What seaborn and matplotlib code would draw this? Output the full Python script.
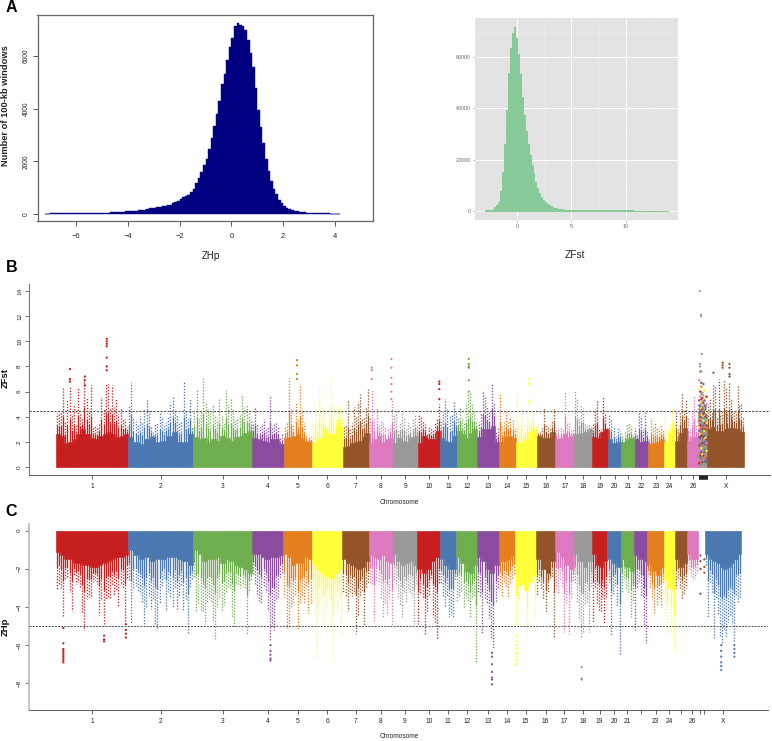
import numpy as np
import pandas as pd
import matplotlib
matplotlib.use("Agg")
import matplotlib.pyplot as plt
import seaborn as sns

W, H = 772, 741

# ---------- panel A histograms ----------
zhp_edges_lo, zhp_edges_hi = -7.2, 4.2
zhp_counts = [15,15,20,20,20,25,25,25,30,30,30,35,
              35,35,35,40,40,40,40,45,45,50,
              50,55,55,60,65,70,75,85,90,100,
              105,110,120,130,140,155,170,190,210,230,
              245,260,280,300,320,340,360,400,440,500,
              580,640,680,740,840,960,1170,1380,1600,1850,
              2100,2450,2900,3350,3800,4300,4950,5300,5850,6350,
              6700,7150,7270,7180,7150,7000,6600,6100,5600,4800,
              3950,3300,2700,2100,1650,1250,950,750,550,430,
              320,240,190,150,120,100,85,70,60,50,
              45,40,35,30,28,25,22,20,18,15,12,10]
zfst_edges_lo, zfst_edges_hi = -2.98, 13.87
zfst_counts = [100,150,200,400,800,1500,2200,3500,7800,15100,26000,39400,53700,63500,69600,72000,
               67400,61300,53500,44600,37400,31300,26000,21800,17900,14600,11300,8700,6800,5200,
               4200,3400,2600,2100,1700,1300,1000,900,780,650,500,450,400,350,300,280,260,240,
               220,200,190,180,170,160,150,150,140,140,130,130,120,120,120,110,110,110,100,100,
               100,100,90,90,90,90,80,80,80,80,70,70,70,70,70,60,60,60,60,60,60,50,50,50,50,50,50,50]

# ---------- genome (Mb) ----------
chrom_names = [str(i) for i in range(1, 27)] + ["scaffolds", "X"]
chrom_mb = [275,248,224,119,108,117,100,91,94,86,62,79,83,62,80,71,72,68,60,51,50,51,62,42,45,44,33,138]
zhp_unplaced_mb = 27
set_colors = ["#C71F1F","#4C78B2","#6FAE4E","#8A4C9F","#E47F1E","#FFFF3A","#925428","#DD79BE","#999999"]

# ---------- panel B: window maxima ----------
fst_top_1 = [4.3,4.2,4.4,6.3,3.6,5.3,6.4,4.2,4.9,3.4,6.3,4.2,4.0,7.2,5.6,4.5,6.5,3.3,3.3,3.2,3.4,5.6,4.6,6.6,6.6,4.6,6.5,4.8,5.4,4.2,4.6,3.8,3.8,3.2]
fst_top_2 = [4.9,6.8,4.0,3.7,3.4,4.1,3.6,4.6,5.4,4.6,3.3,2.8,3.4,3.6,4.5,3.9,3.3,3.6,4.0,5.0,5.6,4.6,4.2,3.5,3.7,6.8,4.5,3.8,5.5,3.2]
fst_top_3 = [4.4,6.2,3.8,4.5,7.1,5.2,4.6,4.3,5.0,4.1,3.8,5.4,4.1,3.6,6.1,5.0,5.5,4.6,3.8,4.0,4.2,5.8,4.8,4.9,4.4,3.8]
fst_top_4 = [3.6,4.8,3.4,3.2,3.4,3.8,3.0,3.2,5.7,3.2,3.5,3.5,3.3,2.3,2.6]
fst_top_5 = [3.3,3.6,7.1,4.6,3.4,5.2,3.8,6.5,4.5,3.5,2.6,2.5,2.4]
fst_top_6 = [3.5,4.9,3.6,6.4,5.3,4.6,4.1,3.3,5.0,7.1,5.0,3.8,4.9,4.6,4.0]
fst_top_7 = [3.3,3.4,5.3,3.1,3.5,4.8,4.0,5.2,5.8,3.9,4.0,4.7,6.2]
fst_top_8 = [3.9,6.1,4.0,4.8,3.4,3.7,3.6,3.2,3.0,3.3,5.4]
fst_top_9 = [4.2,4.5,3.0,3.6,4.4,4.0,3.2,3.6,3.3,3.8,4.2,3.4]
fst_top_10 = [4.2,4.0,3.7,3.4,2.6,3.3,3.1,3.0,3.6,3.8,5.0]
fst_top_11 = [3.8,4.4,5.4,4.6,4.1,4.2,5.2,4.4]
fst_top_12 = [3.9,4.8,3.9,3.5,5.2,6.0,5.9,5.0,4.5,3.6]
fst_top_13 = [3.6,4.2,6.0,5.7,4.8,4.4,6.6,5.2,2.8,3.2]
fst_top_14 = [5.9,3.3,3.6,4.5,3.7,4.0,3.8,3.1]
fst_top_15 = [5.8,3.4,4.6,3.0,3.5,4.5,3.9,3.6,4.5,3.4]
fst_top_16 = [2.8,2.8,3.1,4.8,3.4,3.3,3.2,3.7,4.6]
fst_top_17 = [3.1,3.2,3.3,3.0,6.0,3.6,3.5,3.0,3.1]
fst_top_18 = [6.1,5.5,4.0,4.9,4.7,3.4,3.4,3.4,3.2]
fst_top_19 = [3.4,4.6,5.3,3.0,3.0,5.6,4.2,3.1]
fst_top_20 = [4.2,3.8,3.3,2.5,3.2,2.9]
fst_top_21 = [2.6,2.8,3.4,3.5,3.3,2.6]
fst_top_22 = [3.1,2.6,4.4,4.0,3.0,4.4,2.9]
fst_top_23 = [2.3,3.9,3.2,3.5,3.1,3.0,3.3,3.0]
fst_top_24 = [4.3,3.0,3.4,4.6,3.6]
fst_top_25 = [4.4,3.0,4.4,5.9,4.6,5.4]
fst_top_26 = [4.0,3.0,4.4,5.7,3.4,3.4]
fst_top_27 = []
fst_top_X = [5.0,5.4,4.5,6.6,6.5,4.0,7.0,4.2,4.4,7.0,6.4,4.2,6.8,5.4,4.5,4.5,4.4,6.5,5.0,5.0,4.0]

# ---------- panel B: solid level ----------
fst_floor_1 = [2.6,2.5,1.9,2.0,2.2,2.6,3.0,2.6,2.3,2.2,2.5,2.6,2.8,2.6,2.4,2.5,2.6]
fst_floor_2 = [2.4,2.0,1.8,2.2,2.4,2.0,2.1,2.5,2.8,2.0,2.0,2.6]
fst_floor_3 = [2.4,2.2,2.3,2.0,2.2,2.1,2.5,2.3,2.1,2.4,2.5,2.7,2.9]
fst_floor_4 = [2.3,2.2,2.1,2.0,2.2,2.2,1.8]
fst_floor_5 = [2.3,2.4,2.5,2.6,2.3,2.1,2.0]
fst_floor_6 = [1.9,2.2,2.4,3.0,2.7,2.6,3.0,2.8]
fst_floor_7 = [1.6,1.7,1.9,2.0,2.1,2.4,2.7]
fst_floor_8 = [1.9,2.2,2.5,2.0,2.2,2.3]
fst_floor_9 = [1.9,2.3,2.1,2.0,2.4,2.5]
fst_floor_10 = [1.9,2.5,2.2,2.2,2.9]
fst_floor_11 = [2.3,2.1,2.0,2.5]
fst_floor_12 = [2.9,2.6,2.3,2.7,3.0]
fst_floor_13 = [2.4,3.0,3.0,3.3,2.0]
fst_floor_14 = [2.0,2.4,2.5,2.3]
fst_floor_15 = [2.0,2.0,2.2,2.8,3.0]
fst_floor_16 = [2.5,2.3,2.3,2.8]
fst_floor_17 = [2.2,2.3,2.6,2.4,2.5]
fst_floor_18 = [2.6,2.7,2.8,3.0]
fst_floor_19 = [2.4,2.3,2.8,3.0]
fst_floor_20 = [2.2,1.9,2.0]
fst_floor_21 = [2.0,2.2,2.3]
fst_floor_22 = [2.2,2.0,2.1]
fst_floor_23 = [1.8,1.9,2.0,2.2]
fst_floor_24 = [2.0,2.6,2.7]
fst_floor_25 = [2.1,2.7,3.1]
fst_floor_26 = [2.1,2.4,2.4]
fst_floor_27 = [3.4]
fst_floor_X = [3.0,3.2,2.9,2.9,3.0,3.1,3.1,3.0,2.8]

# panel B isolated points: chromosome index, offset (Mb), value
fst_out_chr = [0]*7 + [0]*3 + [0]*3 + [4]*4 + [7]*3 + [7]*6 + [9]*4 + [11]*6 + [14]*5 + [27]*3 + [27]*4 + [27] + [26]*7
fst_out_mb = [194]*7 + [54]*3 + [111]*3 + [51]*4 + [10]*3 + [85]*6 + [82]*4 + [46]*6 + [52]*5 + [58]*3 + [84]*4 + [23] + [4,9,9,12,5,5,10]
fst_out_z = [10.2,10.0,9.8,9.6,8.7,8.0,7.7, 7.8,7.0,6.8, 7.2,6.9,6.5, 8.5,8.1,7.4,7.0,
             7.9,7.7,7.0, 8.6,7.9,7.1,6.6,6.0,5.4, 6.8,6.6,6.2,5.4, 8.6,8.2,8.0,7.9,6.9,6.0,
             7.0,6.7,6.5,5.3,5.1, 8.3,8.1,7.9, 8.2,7.9,7.4,7.2, 7.5,
             14.0,12.1,12.0,9.0,8.2,8.0,7.6]

# panel B unplaced scaffolds: one list of values per scaffold block
scaf_mb = [2,6,10,14,18,22,26,30]
scaf_z_a = [0.3,0.8,1.1,1.7,2.0,2.4,2.9,3.2,3.5,3.7,3.9,4.1,4.3,4.6,4.9,5.3,6.2,6.9]
scaf_z_b = [0.5,0.9,1.4,1.8,2.3,2.6,3.0,3.3,3.6,3.8,4.0,4.2,4.5,4.8,5.1,5.6,6.0,7.6]
scaf_z_c = [0.2,0.7,1.2,1.5,2.1,2.5,2.8,3.1,3.4,3.7,4.0,4.4,4.7,5.0,5.4,5.8,6.4,6.7]
scaf_z_d = [0.4,1.0,1.3,1.9,2.2,2.7,3.0,3.4,3.6,3.9,4.1,4.3,4.6,4.8,5.2,5.5,5.9]
scaf_z_e = [0.6,0.9,1.5,1.7,2.4,2.6,3.1,3.3,3.7,3.9,4.2,4.4,4.7,5.1,5.7,6.6]
scaf_z_f = [0.3,0.8,1.2,1.6,2.0,2.5,2.9,3.2,3.5,3.8,4.0,4.3,4.5,4.9,5.3,6.1]
scaf_z_g = [0.5,1.1,1.4,1.8,2.3,2.7,3.0,3.4,3.6,4.0,4.2,4.6,4.8,5.5]
scaf_z_h = [0.4,0.7,1.3,1.9,2.2,2.6,3.1,3.3,3.7,3.9,4.1,4.4,5.0,5.6]

# ---------- panel C: window minima ----------
zhp_top_1 = [-3.1,-2.8,-3.0,-4.5,-2.6,-2.5,-3.2,-4.2,-2.4,-2.8,-2.7,-3.0,-4.3,-5.2,-3.6,-3.5,-3.4,-2.7,-2.6,-2.8,-4.4,-3.6,-5.0,-3.6,-3.5,-3.6,-2.9,-3.4,-3.1,-4.0,-2.8,-3.0,-4.8,-2.5]
zhp_top_2 = [-2.6,-4.9,-3.0,-2.9,-3.2,-3.3,-3.8,-5.0,-4.0,-3.4,-4.1,-3.6,-4.9,-5.2,-3.8,-2.9,-2.6,-4.2,-3.2,-3.5,-4.0,-3.0,-4.2,-3.5,-2.9,-4.2,-3.6,-5.4,-3.0,-2.6]
zhp_top_3 = [-2.5,-4.2,-3.8,-4.2,-4.3,-4.9,-3.8,-3.6,-3.8,-4.7,-5.7,-4.0,-3.5,-4.2,-3.9,-3.2,-3.0,-3.0,-4.5,-5.1,-2.8,-2.9,-3.0,-2.9,-3.0,-5.4,-3.2,-2.6]
zhp_top_4 = [-2.3,-2.8,-3.3,-3.7,-3.8,-2.9,-3.2,-4.2,-5.8,-5.1,-5.2,-3.7,-3.6,-2.5,-2.2]
zhp_top_5 = [-3.5,-5.1,-5.1,-4.0,-3.8,-3.4,-5.2,-3.8,-3.5,-3.8,-3.0,-4.3,-3.8]
zhp_top_6 = [-3.8,-4.5,-6.7,-4.3,-3.8,-5.0,-4.6,-3.8,-3.6,-5.3,-6.9,-3.5,-4.2,-3.8,-5.5]
zhp_top_7 = [-3.2,-3.5,-4.2,-3.2,-3.4,-3.3,-5.4,-4.4,-3.5,-3.2,-5.0,-3.0,-2.8]
zhp_top_8 = [-2.8,-2.8,-4.8,-2.6,-2.8,-3.6,-4.6,-3.8,-4.4,-3.6,-5.0]
zhp_top_9 = [-2.6,-2.9,-3.6,-3.9,-4.5,-3.2,-3.8,-3.0,-3.2,-3.4,-4.9,-2.8]
zhp_top_10 = [-4.9,-3.3,-3.6,-5.4,-4.3,-3.4,-2.6,-4.5,-4.8,-5.7,-2.8]
zhp_top_11 = [-2.8,-3.5,-4.0,-3.4,-4.5,-4.4,-4.5,-2.6]
zhp_top_12 = [-3.7,-3.4,-3.2,-4.1,-3.4,-3.7,-4.6,-3.6,-3.5,-6.9]
zhp_top_13 = [-3.2,-3.4,-5.4,-3.6,-3.8,-4.6,-5.7,-6.2,-3.8,-3.0]
zhp_top_14 = [-3.0,-3.5,-2.7,-3.0,-3.5,-2.8,-2.6,-2.3]
zhp_top_15 = [-5.0,-3.7,-3.0,-2.8,-3.2,-5.5,-3.0,-2.7,-3.0,-4.6]
zhp_top_16 = [-3.4,-2.7,-3.0,-3.6,-4.3,-3.2,-2.6,-2.5,-5.6]
zhp_top_17 = [-3.0,-3.3,-2.6,-3.0,-5.3,-3.8,-5.4,-3.6,-2.7]
zhp_top_18 = [-2.8,-3.8,-4.6,-5.6,-5.3,-3.9,-3.8,-5.3,-2.9]
zhp_top_19 = [-4.8,-3.0,-3.8,-4.2,-4.3,-3.5,-4.9,-3.6]
zhp_top_20 = [-2.7,-5.5,-3.3,-2.9,-4.0,-6.5]
zhp_top_21 = [-3.2,-2.5,-3.1,-3.3,-4.5,-3.8]
zhp_top_22 = [-5.2,-3.0,-2.7,-3.4,-3.5,-5.0,-5.9]
zhp_top_23 = [-2.4,-3.0,-3.6,-4.3,-3.9,-3.6,-4.0,-2.8]
zhp_top_24 = [-4.6,-5.4,-2.9,-5.4,-6.3]
zhp_top_25 = [-3.0,-2.6,-3.0,-3.6,-3.3,-3.0]
zhp_top_26 = [-2.1,-2.0,-2.4,-2.6,-2.5,-2.2]
zhp_top_27 = []
zhp_top_X = [-1.8,-4.6,-2.8,-3.3,-5.6,-3.6,-4.4,-5.5,-5.9,-5.2,-5.6,-4.8,-4.4,-4.9,-5.8,-3.4,-3.8,-3.6]

# ---------- panel C: solid level ----------
zhp_floor_1 = [-1.1,-1.3,-1.5,-1.5,-1.7,-1.7,-1.8,-1.8,-1.9,-1.9,-1.8,-1.7,-1.6,-1.5,-1.4,-1.4,-1.3]
zhp_floor_2 = [-1.0,-1.3,-1.5,-1.4,-1.6,-1.5,-1.5,-1.4,-1.4,-1.5,-1.6,-1.8]
zhp_floor_3 = [-1.0,-1.2,-1.6,-1.5,-1.5,-1.4,-1.7,-1.5,-1.6,-1.8,-1.9,-2.0,-2.2]
zhp_floor_4 = [-1.2,-1.2,-1.4,-1.5,-1.4,-1.4,-1.3]
zhp_floor_5 = [-1.2,-1.4,-1.8,-1.7,-1.7,-1.4,-1.5]
zhp_floor_6 = [-1.8,-2.0,-2.2,-2.4,-2.5,-2.5,-2.2,-2.0]
zhp_floor_7 = [-1.5,-1.7,-1.8,-1.9,-2.0,-1.9,-1.6]
zhp_floor_8 = [-1.3,-1.4,-1.5,-1.3,-1.6,-1.7]
zhp_floor_9 = [-1.2,-1.6,-1.8,-1.7,-1.6,-1.8]
zhp_floor_10 = [-2.0,-2.2,-2.0,-1.6,-1.4]
zhp_floor_11 = [-1.5,-1.8,-2.0,-2.0]
zhp_floor_12 = [-1.4,-1.7,-2.1,-2.2,-1.8]
zhp_floor_13 = [-1.4,-1.6,-2.0,-2.2,-1.8]
zhp_floor_14 = [-1.6,-1.6,-1.5,-1.3]
zhp_floor_15 = [-2.2,-2.8,-3.1,-2.7,-2.4]
zhp_floor_16 = [-1.5,-2.0,-2.2,-1.6]
zhp_floor_17 = [-1.1,-1.4,-1.8,-2.0]
zhp_floor_18 = [-1.2,-1.6,-1.9,-1.6]
zhp_floor_19 = [-1.2,-1.8,-1.9,-1.6]
zhp_floor_20 = [-1.5,-1.7,-1.9]
zhp_floor_21 = [-1.5,-1.9,-2.1]
zhp_floor_22 = [-1.3,-1.5,-1.6]
zhp_floor_23 = [-1.8,-2.1,-2.3,-1.9]
zhp_floor_24 = [-2.6,-3.0,-3.1]
zhp_floor_25 = [-1.5,-1.9,-1.7]
zhp_floor_26 = [-1.2,-1.5,-1.5]
zhp_floor_27 = []
zhp_floor_X = [-1.2,-1.5,-1.6,-1.7,-1.9,-2.0,-1.9,-1.7,-1.5,-1.2]

zhp_out_chr = [0]*10 + [0]*4 + [0]*3 + [3]*5 + [12]*7 + [14]*8 + [17]*3 + [27]*6 + [27]*4 + [26]*7
zhp_out_mb = [29]*10 + [267]*4 + [184]*3 + [70]*5 + [57]*7 + [5]*8 + [30]*3 + [61]*6 + [111]*4 + [9,9,9,9,24,24,24]
zhp_out_z = [-5.1,-5.9,-6.2,-6.3,-6.4,-6.5,-6.6,-6.7,-6.8,-6.9, -4.9,-5.2,-5.4,-5.6, -5.5,-5.7,-5.8,
             -6.0,-6.3,-6.5,-6.7,-6.8, -6.4,-6.6,-7.0,-7.4,-7.7,-7.8,-8.05,
             -5.5,-5.8,-6.0,-6.2,-6.4,-6.6,-6.8,-7.0, -7.15,-7.75,-7.8,
             -6.0,-6.3,-6.6,-6.9,-7.1,-7.3, -6.0,-6.2,-6.4,-6.6,
             -1.3,-1.6,-2.0,-3.3,-1.5,-1.9,-2.2]

fst_tops = [fst_top_1,fst_top_2,fst_top_3,fst_top_4,fst_top_5,fst_top_6,fst_top_7,fst_top_8,fst_top_9,fst_top_10,
            fst_top_11,fst_top_12,fst_top_13,fst_top_14,fst_top_15,fst_top_16,fst_top_17,fst_top_18,fst_top_19,fst_top_20,
            fst_top_21,fst_top_22,fst_top_23,fst_top_24,fst_top_25,fst_top_26,fst_top_27,fst_top_X]
fst_floors = [fst_floor_1,fst_floor_2,fst_floor_3,fst_floor_4,fst_floor_5,fst_floor_6,fst_floor_7,fst_floor_8,fst_floor_9,fst_floor_10,
              fst_floor_11,fst_floor_12,fst_floor_13,fst_floor_14,fst_floor_15,fst_floor_16,fst_floor_17,fst_floor_18,fst_floor_19,fst_floor_20,
              fst_floor_21,fst_floor_22,fst_floor_23,fst_floor_24,fst_floor_25,fst_floor_26,fst_floor_27,fst_floor_X]
zhp_tops = [zhp_top_1,zhp_top_2,zhp_top_3,zhp_top_4,zhp_top_5,zhp_top_6,zhp_top_7,zhp_top_8,zhp_top_9,zhp_top_10,
            zhp_top_11,zhp_top_12,zhp_top_13,zhp_top_14,zhp_top_15,zhp_top_16,zhp_top_17,zhp_top_18,zhp_top_19,zhp_top_20,
            zhp_top_21,zhp_top_22,zhp_top_23,zhp_top_24,zhp_top_25,zhp_top_26,zhp_top_27,zhp_top_X]
zhp_floors = [zhp_floor_1,zhp_floor_2,zhp_floor_3,zhp_floor_4,zhp_floor_5,zhp_floor_6,zhp_floor_7,zhp_floor_8,zhp_floor_9,zhp_floor_10,
              zhp_floor_11,zhp_floor_12,zhp_floor_13,zhp_floor_14,zhp_floor_15,zhp_floor_16,zhp_floor_17,zhp_floor_18,zhp_floor_19,zhp_floor_20,
              zhp_floor_21,zhp_floor_22,zhp_floor_23,zhp_floor_24,zhp_floor_25,zhp_floor_26,zhp_floor_27,zhp_floor_X]

sns.set_theme(style="ticks")
plt.rcParams["font.family"] = ["Liberation Sans", "DejaVu Sans"]
fig = plt.figure(figsize=(W / 100, H / 100), dpi=100, facecolor="white")


def px_axes(left, top, right, bottom):
    return fig.add_axes([left / W, 1 - bottom / H, (right - left) / W, (bottom - top) / H])


def px_text(x, y, s, **kw):
    kw.setdefault("ha", "center")
    kw.setdefault("va", "center")
    fig.text(x / W, 1 - y / H, s, **kw)


def track_colors(last_color):
    cols = [set_colors[i % 9] for i in range(28)]
    cols[27] = last_color
    return cols


def draw_track(ax, mb, tops, floors, colors, out_chr, out_mb, out_z):
    starts = np.concatenate([[0], np.cumsum(mb)[:-1]])
    for i, (s, m) in enumerate(zip(starts, mb)):
        c = colors[i]
        fe = np.linspace(s, s + m, len(floors[i]) + 1) if floors[i] else None
        if tops[i]:
            e = np.linspace(s, s + m, len(tops[i]) + 1)
            mid_x = (e[:-1] + e[1:]) / 2
            top = np.array(tops[i])
            # the column is dotted at its tip and closes up towards the solid level
            level = np.array(floors[i])[np.searchsorted(fe, mid_x, side="right") - 1]
            packed = level + 0.42 * (top - level)
            styles = [(k * 1.37 % 2.3, (1.0, 1.25)) for k in range(len(top))]
            ax.vlines(mid_x, 0, top, colors=c, linewidth=0.95, linestyles=styles, zorder=2)
            ax.vlines(mid_x, 0, packed, colors=c, linewidth=0.85, zorder=2)
        if floors[i]:
            sns.histplot(x=(fe[:-1] + fe[1:]) / 2, weights=floors[i], bins=list(fe), element="step", fill=True,
                         color=c, alpha=1, linewidth=0.4, ax=ax, zorder=3)
    df = pd.DataFrame({"x": starts[np.array(out_chr)] + np.array(out_mb), "z": out_z,
                       "k": [colors[i] for i in out_chr]})
    sns.scatterplot(data=df, x="x", y="z", hue="k", palette={c: c for c in set(colors)}, s=2.6,
                    linewidth=0, legend=False, ax=ax, zorder=4)
    ax.set_xlabel("")
    ax.set_ylabel("")
    return starts


# ---------- A left ----------
ax = px_axes(37.5, 15, 373, 221)
e = np.linspace(zhp_edges_lo, zhp_edges_hi, len(zhp_counts) + 1)
sns.histplot(x=(e[:-1] + e[1:]) / 2, weights=zhp_counts, bins=list(e), element="step", color="#000080", alpha=1,
             edgecolor="#000080", linewidth=0.3, ax=ax)
ax.set_xlim(-7.49, 5.47)
ax.set_ylim(-266, 7557)
ax.set_xticks([-6, -4, -2, 0, 2, 4], ["\u22126", "\u22124", "\u22122", "0", "2", "4"])
ax.set_yticks([0, 2000, 4000, 6000])
ax.tick_params(axis="x", labelsize=5.4, length=3.6, width=0.7, color="#555555", labelcolor="#222222", pad=5)
ax.tick_params(axis="y", labelsize=4.7, length=3.6, width=0.7, color="#555555", labelcolor="#222222", pad=2, labelrotation=90)
for t in ax.get_yticklabels():
    t.set_va("center")
for sp in ax.spines.values():
    sp.set_color("#666666")
    sp.set_linewidth(0.9)
ax.set_xlabel("")
ax.set_ylabel("")
px_text(211, 255.7, "ZHp", fontsize=7, color="#222222")
px_text(5.5, 106, "Number of 100-kb windows", fontsize=6.7, rotation=90, fontweight="bold", color="#222222")

# ---------- A right ----------
ax = px_axes(475, 17.7, 677.7, 220)
e = np.linspace(zfst_edges_lo, zfst_edges_hi, len(zfst_counts) + 1)
ax.set_facecolor("#E3E3E3")
ax.set_axisbelow(True)
for v in [2.5, 7.5, 12.5]:
    ax.axvline(v, color="#EDEDED", lw=0.4, zorder=1)
for v in [10000, 30000, 50000, 70000]:
    ax.axhline(v, color="#EDEDED", lw=0.4, zorder=1)
for v in [0, 5, 10]:
    ax.axvline(v, color="white", lw=0.75, zorder=1)
for v in [0, 20000, 40000, 60000]:
    ax.axhline(v, color="white", lw=0.75, zorder=1)
sns.histplot(x=(e[:-1] + e[1:]) / 2, weights=zfst_counts, bins=list(e), color="#88C999", alpha=1,
             element="step", linewidth=0.7, edgecolor="#88C999", ax=ax, zorder=2)
ax.set_xlim(-3.9, 14.8)
ax.set_ylim(-3637, 75480)
ax.set_xticks([0, 5, 10])
ax.set_yticks([0, 20000, 40000, 60000])
ax.tick_params(axis="both", labelsize=3.8, length=1.6, width=0.4, color="#888888", labelcolor="#666666", pad=1.5)
for sp in ax.spines.values():
    sp.set_visible(False)
ax.set_xlabel("")
ax.set_ylabel("")
px_text(574.5, 255.5, "ZFst", fontsize=7.3, color="#222222")

# ---------- B ----------
ax = px_axes(29.3, 284, 770, 474.7)
cols_b = track_colors(set_colors[6])
st = draw_track(ax, chrom_mb, fst_tops, fst_floors, cols_b, fst_out_chr, fst_out_mb, fst_out_z)
sc_cols = [scaf_z_a, scaf_z_b, scaf_z_c, scaf_z_d, scaf_z_e, scaf_z_f, scaf_z_g, scaf_z_h]
sx, sz, sk = [], [], []
for i, (m, col) in enumerate(zip(scaf_mb, sc_cols)):
    for j, z in enumerate(col):
        sx.append(st[26] + m)
        sz.append(z)
        sk.append(set_colors[(i * 4 + j * 2) % 9])
sns.scatterplot(x=sx, y=sz, hue=sk, palette={c: c for c in set_colors}, s=3.0, linewidth=0, legend=False, ax=ax, zorder=5)
ax.axhline(4.47, color="#555555", lw=0.75, ls=(0, (2.2, 1.2)), zorder=6)
ax.set_xlim(-100.3, 2715)
ax.set_ylim(-0.6, 14.55)
mids = st + np.array(chrom_mb) / 2
labels_b = [str(i) for i in range(1, 25)] + ["", "26"]
band = [st[26] + v for v in range(0, 33)]
ax.set_xticks(list(mids[:26]) + band + [mids[27]], labels_b + [""] * len(band) + ["X"])
ax.set_yticks(range(0, 15, 2))
ax.tick_params(axis="x", labelsize=4.8, length=3.2, width=0.5, color="#222222", labelcolor="#222222", pad=2.6)
ax.tick_params(axis="y", labelsize=4.6, length=3, width=0.6, color="#555555", labelcolor="#222222", pad=2.2, labelrotation=90)
for t in ax.get_yticklabels():
    t.set_va("center")
sns.despine(ax=ax)
ax.spines["left"].set_color("#777777")
ax.spines["left"].set_linewidth(0.8)
ax.spines["bottom"].set_color("#444444")
ax.spines["bottom"].set_linewidth(0.6)
px_text(399.5, 502.7, "Chromosome", fontsize=4.7, color="#222222")
px_text(5.5, 378, "ZFst", fontsize=6.8, rotation=90, fontweight="bold", color="#111111")

# ---------- C ----------
ax = px_axes(29.3, 524, 768, 709.7)
mb_c = list(chrom_mb)
mb_c[26] = zhp_unplaced_mb
cols_c = track_colors(set_colors[1])
cols_c[26] = set_colors[6]
st = draw_track(ax, mb_c, zhp_tops, zhp_floors, cols_c, zhp_out_chr, zhp_out_mb, zhp_out_z)
ax.axhline(-5, color="#333333", lw=0.6, ls=(0, (2.4, 1.4)), zorder=6)
ax.set_xlim(-100.5, 2710)
ax.set_ylim(-9.38, 0.35)
mids = st + np.array(mb_c) / 2
labels_c = [str(i) for i in range(1, 22)] + ["", "23", "24", "", "26"]
ax.set_xticks(list(mids[:26]) + [st[26] + 9, st[26] + 23] + [mids[27]], labels_c + ["", ""] + ["X"])
ax.set_yticks([0, -2, -4, -6, -8], ["0", "\u22122", "\u22124", "\u22126", "\u22128"])
ax.tick_params(axis="x", labelsize=4.8, length=3.2, width=0.5, color="#222222", labelcolor="#222222", pad=2.6)
ax.tick_params(axis="y", labelsize=4.6, length=3, width=0.6, color="#555555", labelcolor="#222222", pad=2.2, labelrotation=90)
for t in ax.get_yticklabels():
    t.set_va("center")
sns.despine(ax=ax)
ax.spines["left"].set_color("#BBBBBB")
ax.spines["left"].set_linewidth(1.2)
ax.spines["bottom"].set_color("#444444")
ax.spines["bottom"].set_linewidth(0.6)
px_text(399.5, 736.7, "Chromosome", fontsize=4.7, color="#222222")
px_text(5.5, 627, "ZHp", fontsize=6.8, rotation=90, fontweight="bold", color="#111111")

# panel letters
px_text(11.5, 7.3, "A", fontsize=11.5, fontweight="bold", color="black")
px_text(11.5, 267.3, "B", fontsize=11.5, fontweight="bold", color="black")
px_text(11.5, 512, "C", fontsize=11.5, fontweight="bold", color="black")

fig.savefig("out.png", dpi=100, facecolor="white")
